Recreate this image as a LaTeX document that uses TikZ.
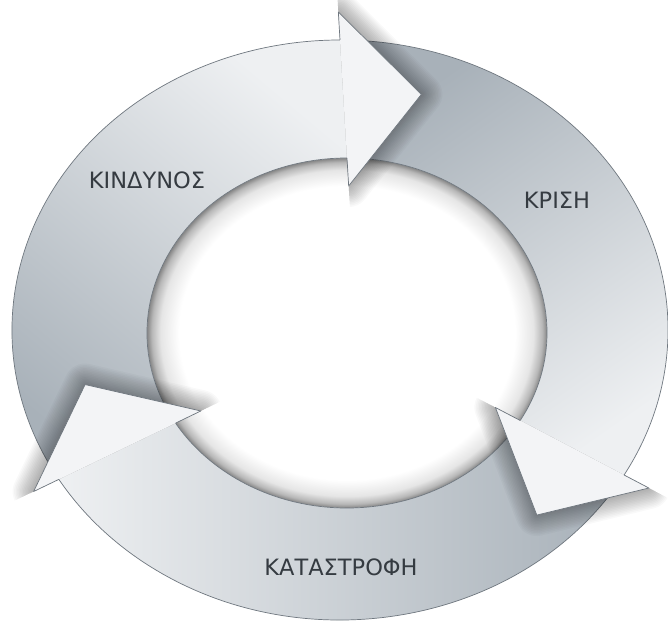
\documentclass[tikz,border=0pt]{standalone}
\usepackage{fontspec}
\setmainfont{DejaVu Sans}
\usetikzlibrary{calc}
\definecolor{lightc}{HTML}{EEF0F2}
\definecolor{headc}{HTML}{F3F4F6}
\definecolor{darkc}{HTML}{A8B1B9}
\definecolor{outlc}{HTML}{6F777F}
\definecolor{txtc}{HTML}{353B41}
\pgfdeclareradialshading{holeshadow}{\pgfpoint{0bp}{0bp}}{color(0bp)=(white);color(21bp)=(white);color(23.3bp)=(black!10);color(24.4bp)=(black!28);color(25bp)=(black!48);color(50bp)=(black!48)}
% body of one arrow: outer arc from #1 to #2, inner arc back
\newcommand{\ringpath}[2]{($(octr)+(#1:328pt and 290pt)$) arc[start angle=#1, end angle=#2, x radius=328pt, y radius=290pt] -- ($(ictr)+(#2:200pt and 175pt)$) arc[start angle=#2, end angle=#1, x radius=200pt, y radius=175pt] -- cycle}
\newcommand{\ringarcs}[2]{%
  \draw[outl] ($(octr)+(#1:328pt and 290pt)$) arc[start angle=#1, end angle=#2, x radius=328pt, y radius=290pt];
  \draw[outl] ($(ictr)+(#1:200pt and 175pt)$) arc[start angle=#1, end angle=#2, x radius=200pt, y radius=175pt];}
% head geometry: #1 name, #2 angle, #3 length
\newcommand{\headdef}[3]{%
  \coordinate (#1O) at ($(octr)+(#2:328pt and 290pt)$);
  \coordinate (#1I) at ($(ictr)+(#2:200pt and 175pt)$);
  \coordinate (#1M) at ($(#1O)!0.5!(#1I)$);
  \coordinate (#1Oc) at ($(#1O)!-28pt!(#1I)$);
  \coordinate (#1Ic) at ($(#1I)!-28pt!(#1O)$);
  \coordinate (#1T) at ($(#1M)!#3pt!-90:(#1O)$);
  \coordinate (#1P1) at ($(#1O)!-150pt!(#1I)$);
  \coordinate (#1P2) at ($(#1I)!-150pt!(#1O)$);
  \coordinate (#1F) at ($(#1M)!200pt!-90:(#1O)$);}
\newcommand{\headshadow}[1]{%
  \begin{scope}
    \clip (#1P1) -- (#1P2) -- ($(#1P2)+(#1F)-(#1M)$) -- ($(#1P1)+(#1F)-(#1M)$) -- cycle;
    \foreach \w in {42,39,...,3}{
      \draw[black, opacity=0.022, line width=\w pt, line join=round] (#1Oc) -- (#1T) -- (#1Ic) -- cycle;}
  \end{scope}}
\newcommand{\headdraw}[1]{%
  \fill[headc] (#1Oc) -- (#1T) -- (#1Ic) -- cycle;
  \draw[outl] (#1O) -- (#1Oc) -- (#1T) -- (#1Ic) -- (#1I);}
\tikzset{
  outl/.style={draw=outlc, line width=0.7pt, line join=round},
  lbl/.style={text=txtc, anchor=base, inner sep=0pt, font=\fontsize{22.5}{27}\selectfont}
}
\begin{document}
\begin{tikzpicture}[x=1pt, y=1pt]
\useasboundingbox (0,0) rectangle (668,626);
\fill[white] (0,0) rectangle (668,626);
\coordinate (octr) at (340,296);
\coordinate (ictr) at (347,293);
% shadow inside the hole
\shade[shading=holeshadow] (ictr) ellipse[x radius=200pt, y radius=175pt];
% bodies
\shade[top color=lightc, middle color=lightc!65!darkc, bottom color=darkc, shading angle=-40] \ringpath{207.5}{90};
\shade[top color=lightc, middle color=lightc!75!darkc, bottom color=darkc, shading angle=215] \ringpath{86}{-30};
\shade[left color=lightc, middle color=lightc!60!darkc, right color=darkc] \ringpath{-33.5}{-149};
\ringarcs{207.5}{90}
\ringarcs{86}{-30}
\ringarcs{-33.5}{-149}
% heads
\headdef{A}{90}{78}
\headdef{B}{-30}{76}
\headdef{C}{-149}{74}
\headshadow{A}
\headshadow{B}
\headshadow{C}
\headdraw{A}
\headdraw{B}
\headdraw{C}
% labels
\node[lbl] (kindynos) at (147,437.7) {ΚΙΝΔΥΝΟΣ};
\node[lbl] (krisi) at (557,417.7) {ΚΡΙΣΗ};
\node[lbl] (katastrofi) at (341,50.3) {ΚΑΤΑΣΤΡΟΦΗ};
\end{tikzpicture}
\end{document}
